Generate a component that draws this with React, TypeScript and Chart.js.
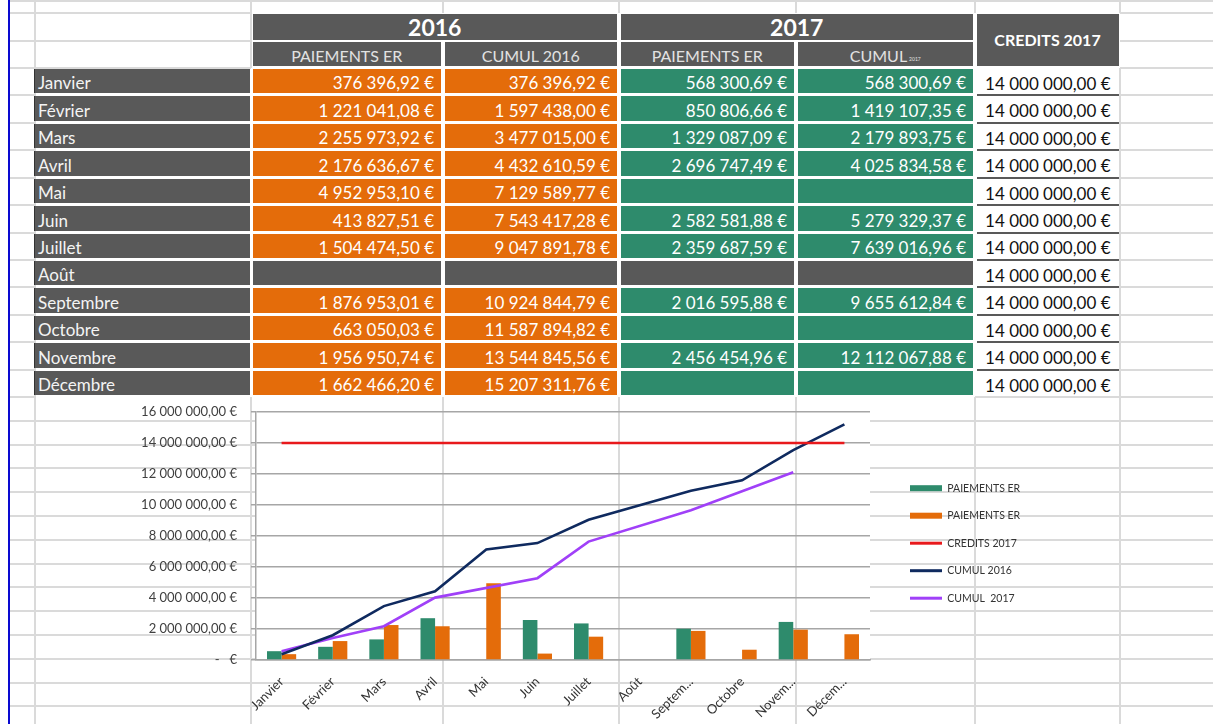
import React, { useEffect, useRef } from "react";
import { Chart, registerables } from "chart.js";

Chart.register(...registerables);
Chart.defaults.font.family = "Lato, 'Noto Sans', sans-serif";

// ---------- DATA ----------
const months = ["Janvier", "Février", "Mars", "Avril", "Mai", "Juin", "Juillet", "Août", "Septembre", "Octobre", "Novembre", "Décembre"];
const axisLabels = ["Janvier", "Février", "Mars", "Avril", "Mai", "Juin", "Juillet", "Août", "Septem...", "Octobre", "Novem...", "Décem..."];
const paiements2016: (number | null)[] = [376396.92, 1221041.08, 2255973.92, 2176636.67, 4952953.1, 413827.51, 1504474.5, null, 1876953.01, 663050.03, 1956950.74, 1662466.2];
const cumul2016: (number | null)[] = [376396.92, 1597438.0, 3477015.0, 4432610.59, 7129589.77, 7543417.28, 9047891.78, null, 10924844.79, 11587894.82, 13544845.56, 15207311.76];
const paiements2017: (number | null)[] = [568300.69, 850806.66, 1329087.09, 2696747.49, null, 2582581.88, 2359687.59, null, 2016595.88, null, 2456454.96, null];
const cumul2017: (number | null)[] = [568300.69, 1419107.35, 2179893.75, 4025834.58, null, 5279329.37, 7639016.96, null, 9655612.84, null, 12112067.88, null];
const credits2017: number[] = [14000000, 14000000, 14000000, 14000000, 14000000, 14000000, 14000000, 14000000, 14000000, 14000000, 14000000, 14000000];
const legendNames = ["PAIEMENTS ER", "PAIEMENTS ER", "CREDITS 2017", "CUMUL 2016", "CUMUL  2017"];
const yMin = 0;
const yMax = 16000000;
const yStep = 2000000;

// ---------- STYLE ----------
const DARK = "#595959";
const ORANGE = "#E46C0A";
const GREEN = "#2E8B6C";
const RED = "#E8191C";
const NAVY = "#0F2A5F";
const PURPLE = "#A040F8";
const AXIS_GRID = "#a6a6a6";
const SHEET = "#dadada";

function fmtEuro(v: number): string {
  const [i, d] = v.toFixed(2).split(".");
  return i.replace(/\B(?=(\d{3})+(?!\d))/g, " ") + "," + d + " €";
}

// sheet geometry
const CX = { A: 8, B: 35, C: 251, D: 443, E: 619, F: 796, G: 975, H: 1120, END: 1213 };
const ROW_H = 27.42;
const TOP0 = 68;
const LOW_TOP = 397;
const LOW_H = 23.8;
const PLOT = { left: 256, right: 870, top: 412, bottom: 660 };
const CAN = { left: 120, top: 390, w: 908, h: 334 };
const LEGEND_W = 135;

type CellProps = {
  x1: number; x2: number; y1: number; y2: number; bg?: string; color?: string;
  align?: "left" | "right" | "center"; size?: number; bold?: boolean; pt?: number;
  children?: React.ReactNode; style?: React.CSSProperties;
};
function Cell(p: CellProps) {
  const { x1, x2, y1, y2, bg, color = "#fff", align = "right", size = 17, bold, pt = 0, children, style } = p;
  return (
    <div
      style={{
        position: "absolute", left: x1, top: y1, width: x2 - x1, height: y2 - y1, background: bg, color,
        fontSize: size, fontWeight: bold ? 700 : 400, display: "flex", alignItems: "center",
        justifyContent: align === "left" ? "flex-start" : align === "right" ? "flex-end" : "center",
        paddingRight: align === "right" ? 7 : 0, paddingLeft: align === "left" ? 3 : 0, paddingTop: pt,
        boxSizing: "border-box", whiteSpace: "pre", lineHeight: 1, ...style,
      }}
    >
      {children}
    </div>
  );
}

function sheetLines() {
  const out: { x: number; y: number; w: number; h: number; c?: string }[] = [];
  const H = (x1: number, x2: number, y: number) => out.push({ x: x1, y: y - 1, w: x2 - x1, h: 2 });
  const V = (x: number, y1: number, y2: number) => out.push({ x: x - 1, y: y1, w: 2, h: y2 - y1 });
  H(CX.A, CX.END, 1);
  [13, 41, 68].forEach((y) => { H(CX.A, CX.C, y); H(CX.H, CX.END, y); });
  for (let k = 1; k <= 12; k++) {
    const y = TOP0 + k * ROW_H;
    H(CX.A, CX.B, y); H(CX.H, CX.END, y);
    if (k === 12) H(CX.G, CX.H, y);
  }
  for (let j = 1; j < 15; j++) {
    const y = LOW_TOP + j * LOW_H;
    if (y > 724) break;
    if (y > PLOT.top && y < PLOT.bottom + 2) { H(CX.A, PLOT.left, y); H(PLOT.right, CX.END, y); }
    else H(CX.A, CX.END, y);
  }
  V(CX.B, 0, 724);
  V(CX.C, 0, 68); V(CX.C, LOW_TOP, 724);
  [CX.D, CX.E, CX.F, CX.G].forEach((x) => { V(x, 0, 13); V(x, LOW_TOP, 724); });
  V(CX.H, 0, 13); V(CX.H, 68, 724);
  out.push({ x: 7.5, y: 0, w: 2, h: 724, c: "#0a0ad0" });
  return out;
}

function Sheet() {
  const cells: React.ReactNode[] = [];
  cells.push(<Cell key="h16" x1={CX.C + 1.5} x2={CX.E - 2} y1={14} y2={40} bg={DARK} align="center" size={23} bold>2016</Cell>);
  cells.push(<Cell key="h17" x1={CX.E + 1.5} x2={CX.G - 2} y1={14} y2={40} bg={DARK} align="center" size={23} bold>2017</Cell>);
  cells.push(<Cell key="hcr" x1={CX.G + 1.5} x2={CX.H - 1.5} y1={14} y2={66} bg={DARK} align="center" size={16} bold>CREDITS 2017</Cell>);
  const sub = { color: "#e2e2e2", size: 16, align: "center" as const, pt: 4 };
  cells.push(<Cell key="s1" x1={CX.C + 1.5} x2={CX.D - 2} y1={42} y2={66} bg={DARK} {...sub}>PAIEMENTS ER</Cell>);
  cells.push(<Cell key="s2" x1={CX.D + 1.5} x2={CX.E - 2} y1={42} y2={66} bg={DARK} {...sub}>CUMUL 2016</Cell>);
  cells.push(<Cell key="s3" x1={CX.E + 1.5} x2={CX.F - 2} y1={42} y2={66} bg={DARK} {...sub}>PAIEMENTS ER</Cell>);
  cells.push(
    <Cell key="s4" x1={CX.F + 1.5} x2={CX.G - 2} y1={42} y2={66} bg={DARK} {...sub}>
      <span>CUMUL</span><span style={{ fontSize: 5, alignSelf: "flex-end", marginBottom: 4, marginLeft: 2 }}>2017</span>
    </Cell>
  );
  months.forEach((m, i) => {
    const top = TOP0 + i * ROW_H;
    const y1 = top + 1;
    const y2 = top + ROW_H - 2;
    const closed = paiements2016[i] == null;
    cells.push(<Cell key={"m" + i} x1={CX.B - 1} x2={CX.C - 1} y1={y1} y2={y2} bg={DARK} align="left" color="#f4f4f4" pt={3.5} style={{ borderLeft: "1px solid #333" }}>{m}</Cell>);
    const vals = [paiements2016[i], cumul2016[i], paiements2017[i], cumul2017[i]];
    const xs = [CX.C, CX.D, CX.E, CX.F, CX.G];
    vals.forEach((v, c) => {
      const bg = closed ? DARK : c < 2 ? ORANGE : GREEN;
      cells.push(
        <Cell key={"v" + i + "-" + c} x1={xs[c] + 1.5} x2={xs[c + 1] - 2} y1={y1} y2={y2} bg={bg} pt={3.5}>
          {v == null ? "" : fmtEuro(v)}
        </Cell>
      );
    });
    cells.push(
      <Cell key={"cr" + i} x1={CX.G + 1.5} x2={CX.H - 1.5} y1={top} y2={top + ROW_H} color="#111" pt={3.5} style={{ paddingRight: 8 }}>
        {fmtEuro(credits2017[i])}
      </Cell>
    );
    if (i < 11) {
      cells.push(<div key={"cb" + i} style={{ position: "absolute", left: CX.G + 1.5, top: top + ROW_H - 1, width: CX.H - CX.G - 3, height: 2, background: DARK }} />);
    }
  });
  return (
    <>
      {sheetLines().map((l, i) => (
        <div key={"l" + i} style={{ position: "absolute", left: l.x, top: l.y, width: l.w, height: l.h, background: l.c || SHEET }} />
      ))}
      {cells}
    </>
  );
}

function ChartBox() {
  const ref = useRef<HTMLCanvasElement | null>(null);
  useEffect(() => {
    if (!ref.current) return;
    const fixLegend = {
      id: "fixLegend",
      beforeLayout(chart: any) {
        const lg = chart.legend;
        if (lg && !lg.__fixed) {
          const orig = lg.fit.bind(lg);
          lg.fit = function () { orig(); this.width = LEGEND_W; };
          lg.__fixed = true;
        }
      },
    };
    const lineBase = { type: "line" as const, pointRadius: 0, pointHoverRadius: 0, borderWidth: 2.6, spanGaps: true, order: 0, fill: false, tension: 0 };
    const chart = new Chart(ref.current, {
      type: "bar",
      data: {
        labels: axisLabels,
        datasets: [
          { type: "bar", label: legendNames[0], data: paiements2017, backgroundColor: GREEN, categoryPercentage: 0.57, barPercentage: 1, order: 1 },
          { type: "bar", label: legendNames[1], data: paiements2016, backgroundColor: ORANGE, categoryPercentage: 0.57, barPercentage: 1, order: 1 },
          { ...lineBase, label: legendNames[2], data: credits2017, borderColor: RED, backgroundColor: RED },
          { ...lineBase, label: legendNames[3], data: cumul2016, borderColor: NAVY, backgroundColor: NAVY },
          { ...lineBase, label: legendNames[4], data: cumul2017, borderColor: PURPLE, backgroundColor: PURPLE },
        ] as any,
      },
      options: {
        animation: false,
        responsive: false,
        devicePixelRatio: 1,
        layout: { padding: { top: PLOT.top - CAN.top, bottom: 0, left: 0, right: 0 } },
        plugins: {
          tooltip: { enabled: false },
          title: { display: false },
          legend: {
            position: "right",
            align: "center",
            fullSize: false,
            title: { display: true, text: " ", padding: 0, font: { size: 12 } },
            labels: {
              usePointStyle: true,
              pointStyleWidth: 32,
              boxHeight: 6,
              padding: 17,
              color: "#333333",
              font: { size: 10.5 },
              sort: (a: any, b: any) => a.datasetIndex - b.datasetIndex,
              generateLabels: (c: any) => {
                const items = (Chart.defaults.plugins.legend.labels as any).generateLabels(c);
                return items.map((it: any) => {
                  const ds: any = c.data.datasets[it.datasetIndex];
                  if (ds.type === "line") return { ...it, pointStyle: "line", lineWidth: 3, strokeStyle: ds.borderColor, fillStyle: ds.borderColor };
                  return { ...it, pointStyle: "rect", lineWidth: 0, fillStyle: ds.backgroundColor, strokeStyle: ds.backgroundColor };
                });
              },
            },
          },
        },
        scales: {
          x: {
            grid: { display: false },
            border: { display: true, color: AXIS_GRID, width: 1.5 },
            ticks: { autoSkip: false, minRotation: 45, maxRotation: 45, color: "#333333", font: { size: 13 }, padding: 6 },
            afterFit: (s: any) => { s.height = CAN.top + CAN.h - PLOT.bottom; },
          },
          y: {
            min: yMin,
            max: yMax,
            ticks: { stepSize: yStep, color: "#404040", font: { size: 13 }, padding: 14, callback: (v: any) => (Number(v) === 0 ? "-   €" : fmtEuro(Number(v))) },
            grid: { color: AXIS_GRID, lineWidth: 1.5, tickLength: 5, tickColor: AXIS_GRID },
            border: { color: AXIS_GRID, width: 1.5 },
            afterFit: (s: any) => { s.width = PLOT.left - CAN.left; },
          },
          y2: {
            position: "right",
            display: true,
            grid: { display: false, drawOnChartArea: false },
            border: { display: false },
            ticks: { display: false },
            afterFit: (s: any) => { s.width = 23; },
          },
        },
      } as any,
      plugins: [fixLegend],
    });
    return () => chart.destroy();
  }, []);
  return (
    <canvas
      ref={ref}
      width={CAN.w}
      height={CAN.h}
      style={{ position: "absolute", left: CAN.left, top: CAN.top, width: CAN.w, height: CAN.h, display: "block" }}
    />
  );
}

export default function App() {
  return (
    <div
      style={{
        position: "absolute", left: 0, top: 0, width: 1213, height: 724, overflow: "hidden", background: "#fff",
        fontFamily: "Lato, 'Noto Sans', sans-serif",
      }}
    >
      <Sheet />
      <ChartBox />
    </div>
  );
}
